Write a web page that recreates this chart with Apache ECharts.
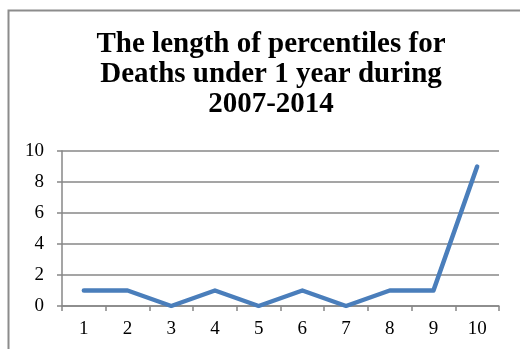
<!DOCTYPE html>
<html>
<head>
<meta charset="utf-8">
<script src="https://cdn.jsdelivr.net/npm/echarts@6/dist/echarts.min.js"></script>
<style>
  html, body { margin: 0; padding: 0; background: #fff; }
  #chart { width: 520px; height: 349px; }
</style>
</head>
<body>
<div id="chart"></div>
<script>
// Percentile ranks along the x axis
const categories = ['1', '2', '3', '4', '5', '6', '7', '8', '9', '10'];
// Length of each percentile
const lengths = [1, 1, 0, 1, 0, 1, 0, 1, 1, 9];
// Value axis ticks
const yMin = 0, yMax = 10, yStep = 2;

const titleText = 'The length of percentiles for\nDeaths under 1 year during\n2007-2014';
const serif = '"Liberation Serif", "Times New Roman", serif';
const gridGray = '#878787';

const chart = echarts.init(document.getElementById('chart'), null, { renderer: 'canvas' });
chart.setOption({
  animation: false,
  backgroundColor: '#fff',
  graphic: [{
    type: 'rect',
    shape: { x: 8.5, y: 10.5, width: 600, height: 400 },
    style: { fill: 'none', stroke: '#8c8c8c', lineWidth: 2 },
    silent: true
  }],
  title: {
    text: titleText,
    left: 266,
    top: 25,
    textAlign: 'center',
    textStyle: {
      fontFamily: serif,
      fontWeight: 'bold',
      fontSize: 29,
      lineHeight: 30,
      color: '#000'
    }
  },
  grid: { left: 62, top: 151, width: 437, height: 155 },
  xAxis: {
    type: 'category',
    data: categories,
    boundaryGap: true,
    axisLine: { lineStyle: { color: gridGray, width: 1.5 } },
    axisTick: { show: true, length: 5, interval: 0, lineStyle: { color: gridGray, width: 1.5 } },
    axisLabel: { fontFamily: serif, fontSize: 19, color: '#000', margin: 14, interval: 0 }
  },
  yAxis: {
    type: 'value',
    min: yMin,
    max: yMax,
    interval: yStep,
    axisLine: { show: true, lineStyle: { color: gridGray, width: 1.5 } },
    axisTick: { show: true, length: 5, lineStyle: { color: gridGray, width: 1.5 } },
    axisLabel: { fontFamily: serif, fontSize: 19, color: '#000', margin: 18 },
    splitLine: { show: true, lineStyle: { color: gridGray, width: 1.5 } }
  },
  series: [{
    type: 'line',
    data: lengths,
    symbol: 'none',
    lineStyle: { color: '#4a7ebb', width: 4.5, cap: 'round', join: 'round' }
  }]
});
</script>
</body>
</html>
